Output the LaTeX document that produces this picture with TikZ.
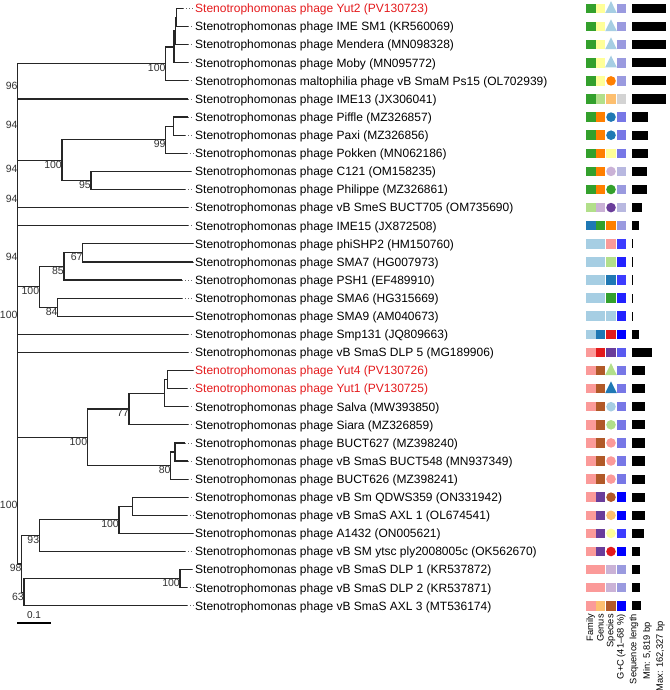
\documentclass[tikz,border=0pt]{standalone}
\usepackage{fontspec}
\setmainfont{Liberation Sans}
\definecolor{lb}{HTML}{A6CEE3}
\definecolor{db}{HTML}{1F78B4}
\definecolor{lg}{HTML}{B2DF8A}
\definecolor{gr}{HTML}{33A02C}
\definecolor{pk}{HTML}{FB9A99}
\definecolor{rd}{HTML}{E31A1C}
\definecolor{lo}{HTML}{FDBF6F}
\definecolor{or}{HTML}{FF7F00}
\definecolor{lp}{HTML}{CAB2D6}
\definecolor{pu}{HTML}{6A3D9A}
\definecolor{ly}{HTML}{FFFF99}
\definecolor{bn}{HTML}{B15928}
\definecolor{gA}{HTML}{9A9ADF}
\definecolor{gB}{HTML}{B8B8E0}
\definecolor{gN}{HTML}{D3D3D3}
\definecolor{gC}{HTML}{7777E6}
\definecolor{gD}{HTML}{5A5AF0}
\definecolor{gE}{HTML}{3C3CFF}
\definecolor{gF}{HTML}{2222FF}
\definecolor{gG}{HTML}{0000FF}
\definecolor{redlab}{RGB}{228,26,28}
\newcommand\shpT[2]{\fill[#2] (611,{#1-7.3}) -- (605.2,{#1+4.5}) -- (616.8,{#1+4.5}) -- cycle;}
\newcommand\shpC[2]{\fill[#2] (611,#1) circle[radius=4.8pt];}
\newcommand\shpS[2]{\fill[#2] (606.25,{#1-4.75}) rectangle ++(9.5,9.5);}
\begin{document}
\begin{tikzpicture}[x=1pt,y=-1pt,
  br/.style={line width=1.2pt, draw=black!85},
  leader/.style={draw=black!60, line width=0.8pt, dash pattern=on 0.8pt off 2.4pt},
  tiplab/.style={anchor=base west, inner sep=0pt, font=\fontsize{12}{14}\selectfont},
  bs/.style={anchor=north east, inner sep=0pt, font=\fontsize{10.5}{12}\selectfont, text=black!80},
  leg/.style={rotate=90, anchor=east, inner sep=0pt, font=\fontsize{9.3}{10}\selectfont}]
\useasboundingbox (0,0) rectangle (669,690);

% tips
\foreach \i/\ex/\txt/\col in {
 0/182.7/{phage Yut2 (PV130723)}/redlab,
 1/188/{phage IME SM1 (KR560069)}/black,
 2/188/{phage Mendera (MN098328)}/black,
 3/188/{phage Moby (MN095772)}/black,
 4/188/{maltophilia phage vB SmaM Ps15 (OL702939)}/black,
 5/188/{phage IME13 (JX306041)}/black,
 6/188/{phage Piffle (MZ326857)}/black,
 7/185/{phage Paxi (MZ326856)}/black,
 8/187/{phage Pokken (MN062186)}/black,
 9/191/{phage C121 (OM158235)}/black,
 10/185/{phage Philippe (MZ326861)}/black,
 11/188/{phage vB SmeS BUCT705 (OM735690)}/black,
 12/188/{phage IME15 (JX872508)}/black,
 13/192.7/{phage phiSHP2 (HM150760)}/black,
 14/192.7/{phage SMA7 (HG007973)}/black,
 15/181.7/{phage PSH1 (EF489910)}/black,
 16/181.7/{phage SMA6 (HG315669)}/black,
 17/192.7/{phage SMA9 (AM040673)}/black,
 18/188/{phage Smp131 (JQ809663)}/black,
 19/188/{phage vB SmaS DLP 5 (MG189906)}/black,
 20/192.7/{phage Yut4 (PV130726)}/redlab,
 21/186.7/{phage Yut1 (PV130725)}/redlab,
 22/188/{phage Salva (MW393850)}/black,
 23/188/{phage Siara (MZ326859)}/black,
 24/185/{phage BUCT627 (MZ398240)}/black,
 25/188/{phage vB SmaS BUCT548 (MN937349)}/black,
 26/188/{phage BUCT626 (MZ398241)}/black,
 27/188/{phage vB Sm QDWS359 (ON331942)}/black,
 28/186.7/{phage vB SmaS AXL 1 (OL674541)}/black,
 29/192.7/{phage A1432 (ON005621)}/black,
 30/185/{phage vB SM ytsc ply2008005c (OK562670)}/black,
 31/191.7/{phage vB SmaS DLP 1 (KR537872)}/black,
 32/186.7/{phage vB SmaS DLP 2 (KR537871)}/black,
 33/186.7/{phage vB SmaS AXL 3 (MT536174)}/black}
{
  \pgfmathsetmacro\yy{8.5+18.1*\i}
  \coordinate (e\i) at (\ex,\yy);
  \coordinate (l\i) at (193.5,\yy);
  \node[tiplab,text=\col] (t\i) at (195,{\yy+4.3}) {Stenotrophomonas \txt};
  \draw[leader] (e\i) -- (l\i);
}

% internal nodes
\coordinate (A) at (176.7,17.55);
\coordinate (W) at (175.5,31.1);
\coordinate (Z) at (174,46.95);
\coordinate (N100a) at (165.7,63.9);
\coordinate (N96) at (17.7,81.5);
\coordinate (P) at (173.3,126.15);
\coordinate (N99) at (165.7,139.7);
\coordinate (N95) at (91,180.45);
\coordinate (N100b) at (62,160.1);
\coordinate (N94a) at (17.7,120.8);
\coordinate (N94b) at (17.7,164.2);
\coordinate (N94c) at (17.7,194.95);
\coordinate (N67) at (82.7,252.85);
\coordinate (N85) at (64,266.4);
\coordinate (N84) at (57.7,307.15);
\coordinate (N100c) at (39.3,286.8);
\coordinate (X) at (17.7,310.55);
\coordinate (N94d) at (17.7,252.75);
\coordinate (S) at (167.3,379.55);
\coordinate (R) at (164.3,393.1);
\coordinate (N77) at (129,408.95);
\coordinate (T) at (175,451.95);
\coordinate (N80) at (170.7,465.5);
\coordinate (N100d) at (87.3,437.2);
\coordinate (Q) at (132.7,506.25);
\coordinate (N100f) at (119,519.8);
\coordinate (N93) at (39.3,535.65);
\coordinate (N100e) at (180,578.65);
\coordinate (N63) at (24,592.2);
\coordinate (N98) at (21.7,563.9);
\coordinate (N100g) at (17.7,500.55);
\coordinate (Root) at (17.7,376.6);

\foreach \p/\c in {A/e0, A/e1, W/A, W/e2, Z/W, Z/e3, N100a/Z, N100a/e4, N96/N100a, N96/e5,
 P/e6, P/e7, N99/P, N99/e8, N95/e9, N95/e10, N100b/N99, N100b/N95,
 N94a/N96, N94a/N100b, N94b/N94a, N94b/e11, N94c/N94b, N94c/e12,
 N67/e13, N67/e14, N85/N67, N85/e15, N84/e16, N84/e17, N100c/N85, N100c/N84, X/N100c, X/e18,
 N94d/N94c, N94d/X, Root/N94d, Root/e19, Root/N100g,
 S/e20, S/e21, R/S, R/e22, N77/R, N77/e23, T/e24, T/e25, N80/T, N80/e26, N100d/N77, N100d/N80,
 Q/e27, Q/e28, N100f/Q, N100f/e29, N93/N100f, N93/e30, N100e/e31, N100e/e32, N63/N100e, N63/e33,
 N98/N93, N98/N63, N100g/N100d, N100g/N98}
{ \draw[br] (\p) |- (\c); }

% support values
\foreach \n/\v in {N100a/100, N96/96, N99/99, N95/95, N100b/100, N94a/94, N94b/94, N94c/94,
 N67/67, N85/85, N84/84, N100c/100, X/100, N94d/94, N77/77, N80/80, N100d/100,
 N100f/100, N93/93, N100e/100, N63/63, N98/98, N100g/100}
{ \node[bs] (b\n) at ([yshift=-0.5pt]\n) {\v}; }

% scale bar
\coordinate (sb1) at (17.3,622.7);
\coordinate (sb2) at (51,622.7);
\draw[line width=1.6pt] (sb1) -- (sb2);
\node[inner sep=0pt, font=\fontsize{10}{12}\selectfont, text=black!85] (sbl) at (34,615.5) {0.1};

% annotation columns
\foreach \i/\fa/\ge/\sp/\sh/\gc/\bl in {
 0/gr/ly/lb/T/gA/34.3, 1/gr/ly/lb/T/gA/34.3, 2/gr/ly/lb/T/gA/34.3, 3/gr/ly/lb/T/gA/34.3,
 4/gr/ly/or/C/gA/34.3, 5/gr/lg/lo/S/gN/34.3, 6/gr/or/db/C/gC/16, 7/gr/or/db/C/gC/16,
 8/gr/or/ly/S/gC/16, 9/gr/or/lp/C/gB/15.3, 10/gr/or/gr/C/gA/15.3, 11/lg/lp/pu/C/gB/10.7,
 12/db/gr/or/S/gA/7.7, 13/lb/lb/pk/S/gE/1.3, 14/lb/lb/lg/S/gF/1.3, 15/lb/lb/db/S/gE/1.3,
 16/lb/lb/gr/S/gF/1.3, 17/lb/lb/lb/S/gF/1.3, 18/lb/db/rd/S/gG/7.3, 19/pk/rd/pu/S/gD/20.5,
 20/pk/bn/lg/T/gC/13, 21/pk/bn/db/T/gC/13, 22/pk/bn/lb/C/gC/13, 23/pk/bn/lg/C/gC/13,
 24/pk/bn/pk/C/gC/13, 25/pk/bn/pk/C/gC/13, 26/pk/bn/pk/C/gC/13, 27/pk/pu/bn/C/gG/13,
 28/pk/pu/lo/C/gG/13.7, 29/pk/pu/ly/C/gE/12.7, 30/pk/pu/rd/C/gG/8.3, 31/pk/pk/lp/S/gA/8.3,
 32/pk/pk/lp/S/gA/8.3, 33/pk/lo/bn/S/gG/9.3}
{
  \pgfmathsetmacro\yy{8.5+18.1*\i}
  \fill[\fa] (586,{\yy-4.75}) rectangle ++(9.5,9.5);
  \fill[\ge] (595.75,{\yy-4.75}) rectangle ++(9.5,9.5);
  \csname shp\sh\endcsname{\yy}{\sp}
  \fill[\gc] (616.5,{\yy-4.75}) rectangle ++(9.5,9.5);
  \fill[black] (631.7,{\yy-4.6}) rectangle ++(\bl,9.2);
}

% legend
\node[leg] (lfam) at (590.7,614) {Family};
\node[leg] (lgen) at (600.5,614) {Genus};
\node[leg] (lspe) at (611,614) {Species};
\node[leg] (lgc) at (621.3,614) {G+C (41--68 \%)};
\node[leg] (lsl) at (634,614) {Sequence length};
\node[leg] (lmin) at (647.5,622) {Min: 5,819 bp};
\node[leg] (lmax) at (660.5,621) {Max: 162,327 bp};
\end{tikzpicture}
\end{document}
